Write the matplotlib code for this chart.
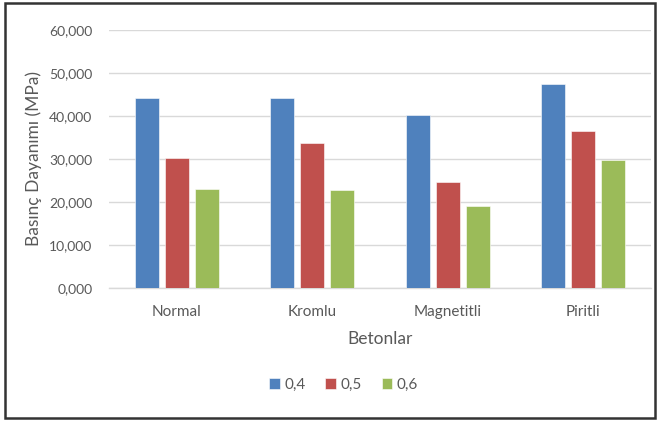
import matplotlib
matplotlib.use("Agg")
import matplotlib.pyplot as plt
import numpy as np
from matplotlib.patches import Rectangle
from matplotlib.ticker import FuncFormatter, MultipleLocator

plt.rcParams['font.family'] = ['Lato', 'DejaVu Sans']

# Compressive strength (MPa) per concrete type and w/c ratio
categories = ["Normal", "Kromlu", "Magnetitli", "Piritli"]
series_names = ["0,4", "0,5", "0,6"]
s04 = [44.3, 44.3, 40.3, 47.5]
s05 = [30.3, 33.8, 24.7, 36.6]
s06 = [23.1, 22.9, 19.1, 29.8]
colors = ["#4F81BD", "#C0504D", "#9BBB59"]

text_color = "#595959"
grid_color = "#D9D9D9"

fig = plt.figure(figsize=(6.58, 4.22), dpi=100)
ax = fig.add_axes([109 / 658, 1 - 288 / 422, 542 / 658, 258 / 422])

x = np.arange(len(categories))
width = 0.175
pitch = 0.222
for i, (vals, name, c) in enumerate(zip([s04, s05, s06], series_names, colors)):
    ax.bar(x + (i - 1) * pitch, vals, width=width, color=c, label=name,
           edgecolor="white", linewidth=0.4, zorder=3)

ax.set_xlim(-0.5, len(categories) - 0.5)
ax.set_ylim(0, 60)
ax.yaxis.set_major_locator(MultipleLocator(10))
ax.yaxis.set_major_formatter(FuncFormatter(lambda v, p: f"{v:.3f}".replace(".", ",")))
ax.set_xticks(x)
ax.set_xticklabels(categories)

ax.grid(axis="y", color=grid_color, linewidth=1.0, zorder=0)
ax.set_axisbelow(True)
for side in ["top", "right", "left"]:
    ax.spines[side].set_visible(False)
ax.spines["bottom"].set_color(grid_color)
ax.spines["bottom"].set_linewidth(1.0)

ax.tick_params(axis="y", length=0, labelsize=10, labelcolor=text_color, pad=12)
ax.tick_params(axis="x", length=0, labelsize=11, labelcolor=text_color, pad=12)

ax.set_ylabel("Basınç Dayanımı (MPa)", fontsize=12.5, color=text_color, labelpad=5)
ax.set_xlabel("Betonlar", fontsize=12.5, color=text_color, labelpad=9)

leg = fig.legend(loc="center", bbox_to_anchor=(0.522, 1 - 385 / 422), ncol=3,
                 frameon=False, fontsize=11, handlelength=0.7, handleheight=0.7,
                 handletextpad=0.3, columnspacing=1.3)
for t in leg.get_texts():
    t.set_color(text_color)

# Outer frame around the chart
fig.patches.append(Rectangle((5 / 658, 1 - 418 / 422), 650 / 658, 415 / 422,
                             transform=fig.transFigure, fill=False,
                             edgecolor="#333333", linewidth=1.8))

fig.savefig("out.png", dpi=100)
